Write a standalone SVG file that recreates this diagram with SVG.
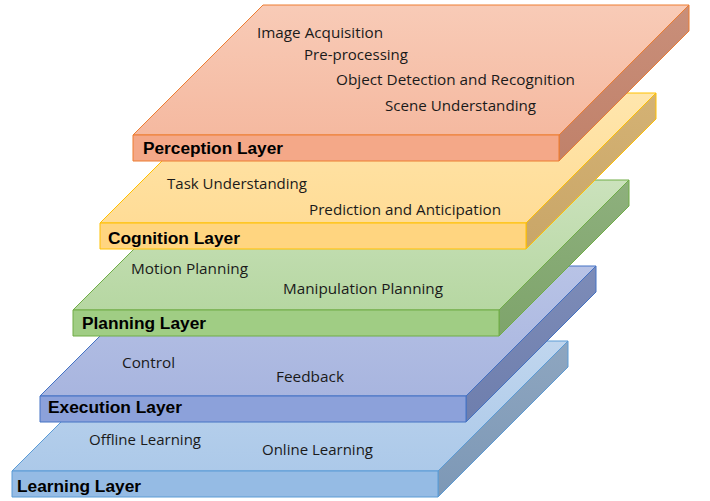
<svg xmlns="http://www.w3.org/2000/svg" width="710" height="501" viewBox="0 0 710 501">
<defs>
<linearGradient id="gPt" x1="0" y1="0" x2="0" y2="1"><stop offset="0" stop-color="#F8CBB7"/><stop offset="1" stop-color="#F5B9A0"/></linearGradient>
<linearGradient id="gPs" x1="0" y1="0" x2="0" y2="1"><stop offset="0" stop-color="#C98F7A"/><stop offset="1" stop-color="#C0816A"/></linearGradient>
<linearGradient id="gCt" x1="0" y1="0" x2="0" y2="1"><stop offset="0" stop-color="#FFE6AD"/><stop offset="1" stop-color="#FFDC96"/></linearGradient>
<linearGradient id="gCs" x1="0" y1="0" x2="0" y2="1"><stop offset="0" stop-color="#D4B274"/><stop offset="1" stop-color="#C9A668"/></linearGradient>
<linearGradient id="gLt" x1="0" y1="0" x2="0" y2="1"><stop offset="0" stop-color="#CBE2BC"/><stop offset="1" stop-color="#B6D7A2"/></linearGradient>
<linearGradient id="gLs" x1="0" y1="0" x2="0" y2="1"><stop offset="0" stop-color="#8EB07D"/><stop offset="1" stop-color="#7EA46B"/></linearGradient>
<linearGradient id="gEt" x1="0" y1="0" x2="0" y2="1"><stop offset="0" stop-color="#B8C3E6"/><stop offset="1" stop-color="#A8B5DF"/></linearGradient>
<linearGradient id="gEs" x1="0" y1="0" x2="0" y2="1"><stop offset="0" stop-color="#7D8CB8"/><stop offset="1" stop-color="#6E7EAD"/></linearGradient>
<linearGradient id="gRt" x1="0" y1="0" x2="0" y2="1"><stop offset="0" stop-color="#C0D6EE"/><stop offset="1" stop-color="#ACC9E9"/></linearGradient>
<linearGradient id="gRs" x1="0" y1="0" x2="0" y2="1"><stop offset="0" stop-color="#8EA6C0"/><stop offset="1" stop-color="#7D98B6"/></linearGradient>
</defs>
<style>
.t{font-family:"Open Sans","Liberation Sans",sans-serif;font-size:14px;fill:#1a1a1a}
.b{font-family:"Liberation Sans",Arial,sans-serif;font-size:16px;font-weight:bold;fill:#000}
.p{stroke:#ED7D31;stroke-width:1;stroke-linejoin:round}
.c{stroke:#FFC000;stroke-width:1;stroke-linejoin:round}
.l{stroke:#70AD47;stroke-width:1;stroke-linejoin:round}
.e{stroke:#4472C4;stroke-width:1;stroke-linejoin:round}
.r{stroke:#5B9BD5;stroke-width:1;stroke-linejoin:round}
</style>

<g id="learning-layer">
<polygon class="r" fill="url(#gRt)" points="12,471 438,471 568,341 142,341"/>
<polygon class="r" fill="url(#gRs)" points="438,471 568,341 568,367 438,497"/>
<rect class="r" fill="#95BBE4" x="12" y="471" width="426" height="26"/>
<text class="b" x="17" y="492" textLength="124" lengthAdjust="spacingAndGlyphs">Learning Layer</text>
<text class="t" x="89" y="445" textLength="112" lengthAdjust="spacingAndGlyphs">Offline Learning</text>
<text class="t" x="262" y="455" textLength="111" lengthAdjust="spacingAndGlyphs">Online Learning</text>
</g>

<g id="execution-layer">
<polygon class="e" fill="url(#gEt)" points="40,396 466,396 596,266 170,266"/>
<polygon class="e" fill="url(#gEs)" points="466,396 596,266 596,292 466,422"/>
<rect class="e" fill="#8CA1DA" x="40" y="396" width="426" height="26"/>
<text class="b" x="48" y="413" textLength="134" lengthAdjust="spacingAndGlyphs">Execution Layer</text>
<text class="t" x="122" y="368" textLength="53" lengthAdjust="spacingAndGlyphs">Control</text>
<text class="t" x="276" y="382" textLength="68" lengthAdjust="spacingAndGlyphs">Feedback</text>
</g>

<g id="planning-layer">
<polygon class="l" fill="url(#gLt)" points="73,310 499,310 629,180 203,180"/>
<polygon class="l" fill="url(#gLs)" points="499,310 629,180 629,206 499,336"/>
<rect class="l" fill="#A0CD84" x="73" y="310" width="426" height="26"/>
<text class="b" x="82" y="329" textLength="124" lengthAdjust="spacingAndGlyphs">Planning Layer</text>
<text class="t" x="131" y="274" textLength="117" lengthAdjust="spacingAndGlyphs">Motion Planning</text>
<text class="t" x="283" y="294" textLength="160" lengthAdjust="spacingAndGlyphs">Manipulation Planning</text>
</g>

<g id="cognition-layer">
<polygon class="c" fill="url(#gCt)" points="100,223 526,223 656,93 230,93"/>
<polygon class="c" fill="url(#gCs)" points="526,223 656,93 656,119 526,249"/>
<rect class="c" fill="#FFD580" x="100" y="223" width="426" height="26"/>
<text class="b" x="108" y="244" textLength="132" lengthAdjust="spacingAndGlyphs">Cognition Layer</text>
<text class="t" x="167" y="189" textLength="140" lengthAdjust="spacingAndGlyphs">Task Understanding</text>
<text class="t" x="309" y="215" textLength="192" lengthAdjust="spacingAndGlyphs">Prediction and Anticipation</text>
</g>

<g id="perception-layer">
<polygon class="p" fill="url(#gPt)" points="133,135 559,135 689,5 263,5"/>
<polygon class="p" fill="url(#gPs)" points="559,135 689,5 689,31 559,161"/>
<rect class="p" fill="#F4A888" x="133" y="135" width="426" height="26"/>
<text class="b" x="143" y="154" textLength="140" lengthAdjust="spacingAndGlyphs">Perception Layer</text>
<text class="t" x="257" y="38" textLength="126" lengthAdjust="spacingAndGlyphs">Image Acquisition</text>
<text class="t" x="304" y="60" textLength="104" lengthAdjust="spacingAndGlyphs">Pre-processing</text>
<text class="t" x="336" y="85" textLength="239" lengthAdjust="spacingAndGlyphs">Object Detection and Recognition</text>
<text class="t" x="385" y="111" textLength="151" lengthAdjust="spacingAndGlyphs">Scene Understanding</text>
</g>
</svg>
